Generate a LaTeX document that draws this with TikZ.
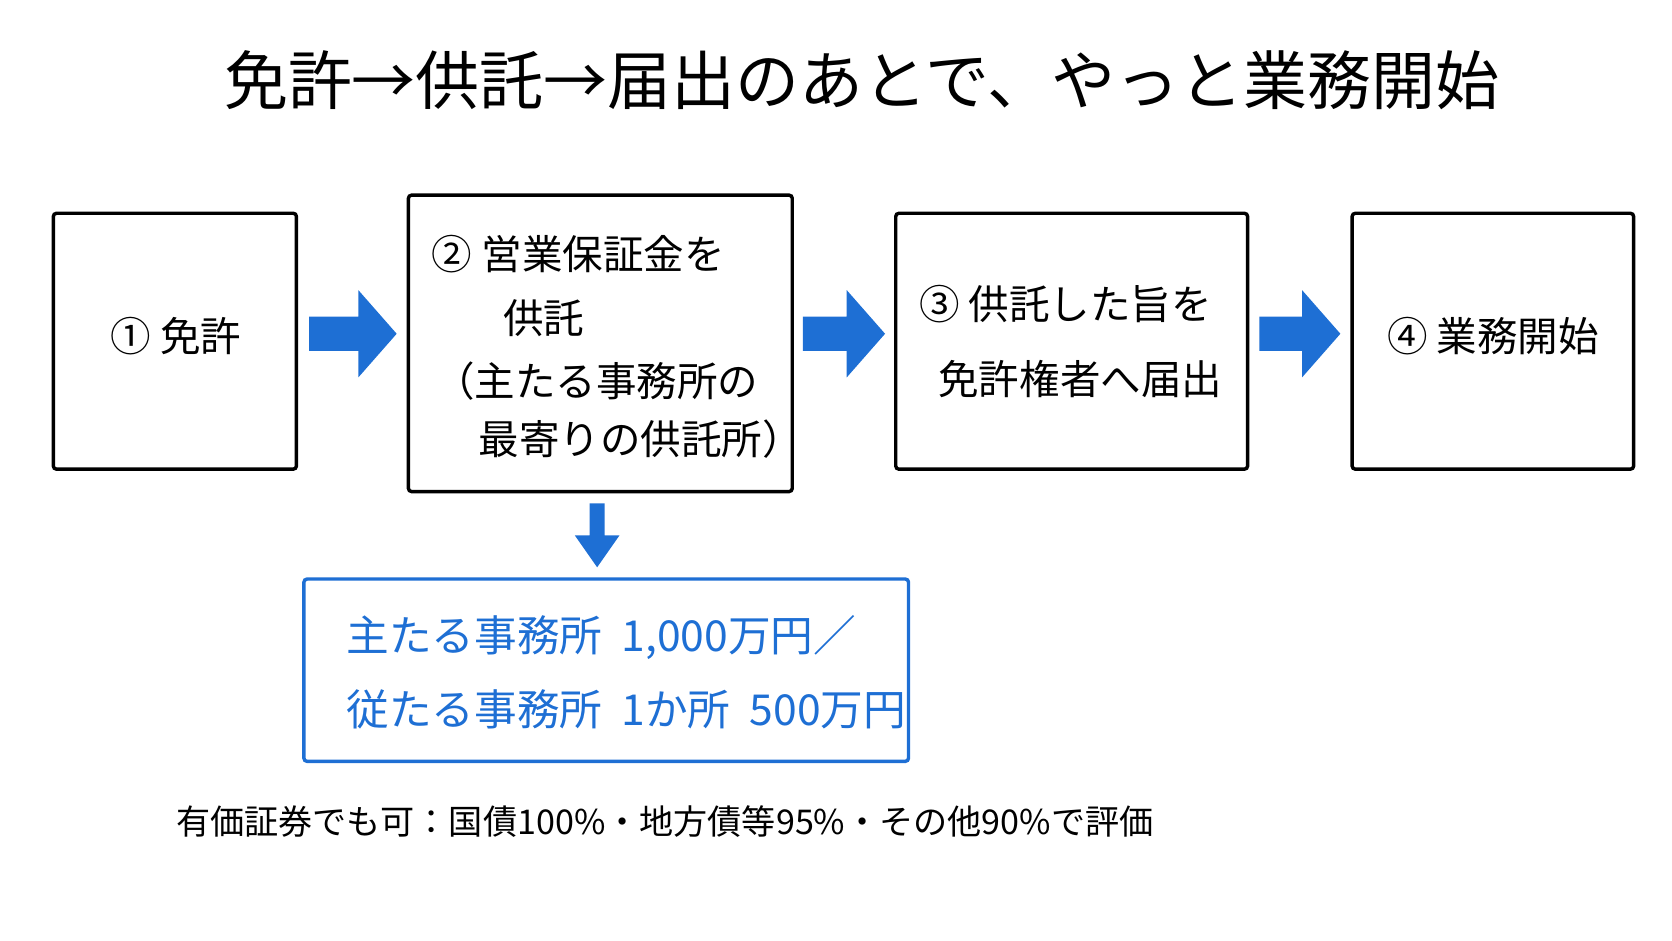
\documentclass[tikz,border=0pt]{standalone}
\usepackage{fontspec}
\setmainfont{Noto Sans CJK JP}
\definecolor{ablue}{HTML}{1E6FD4}
\begin{document}
\begin{tikzpicture}[x=0.5pt,y=-0.5pt,
  box/.style={draw=black,line width=1.6pt,rounded corners=1.5pt},
  bbox/.style={draw=ablue,line width=1.6pt,rounded corners=1.5pt},
  txt/.style={font=\fontsize{19}{24}\selectfont},
  harrow/.style={fill=ablue,draw=none}]
\useasboundingbox (0,0) rectangle (1568,882);
\node[font=\fontsize{30}{36}\selectfont] (title) at (808,75) {免許→供託→届出のあとで、やっと業務開始};
% boxes
\draw[box] (50,200) rectangle (278,440) coordinate (b1);
\node[txt] (t1) at (165,315) {①\ 免許};
\draw[box] (383,183) rectangle (743,461);
\node[txt,anchor=west] (t2a) at (398,238) {②\ 営業保証金を};
\node[txt] (t2b) at (510,298) {供託};
\node[txt,anchor=west] (t2c) at (400,357) {（主たる事務所の};
\node[txt,anchor=west] (t2d) at (442,412) {最寄りの供託所）};
\draw[box] (840,200) rectangle (1170,440);
\node[txt,anchor=west] (t3a) at (855,285) {③\ 供託した旨を};
\node[txt,anchor=west] (t3b) at (873,355) {免許権者へ届出};
\draw[box] (1268,200) rectangle (1532,440);
\node[txt] (t4) at (1400,315) {④\ 業務開始};
% arrows
\foreach \a/\b in {290/372,753/830,1181/1257}{
  \fill[harrow] (\a,297) -- (\b-36,297) -- (\b-36,272) -- (\b,313) -- (\b-36,354) -- (\b-36,329) -- (\a,329) -- cycle;}
\fill[harrow] (553,472) -- (567,472) -- (567,502) -- (581,502) -- (560,532) -- (539,502) -- (553,502) -- cycle;
% blue box
\draw[bbox] (285,543) rectangle (852,714);
\node[font=\fontsize{20}{24}\selectfont,text=ablue,anchor=west] (u1) at (318,598) {主たる事務所\ \ 1,000万円／};
\node[font=\fontsize{20}{24}\selectfont,text=ablue,anchor=west] (u2) at (318,665) {従たる事務所\ \ 1か所\ \ 500万円};
\node[font=\fontsize{16}{20}\selectfont,anchor=west] (note) at (158,770) {有価証券でも可：国債100\%・地方債等95\%・その他90\%で評価};
\end{tikzpicture}
\end{document}
